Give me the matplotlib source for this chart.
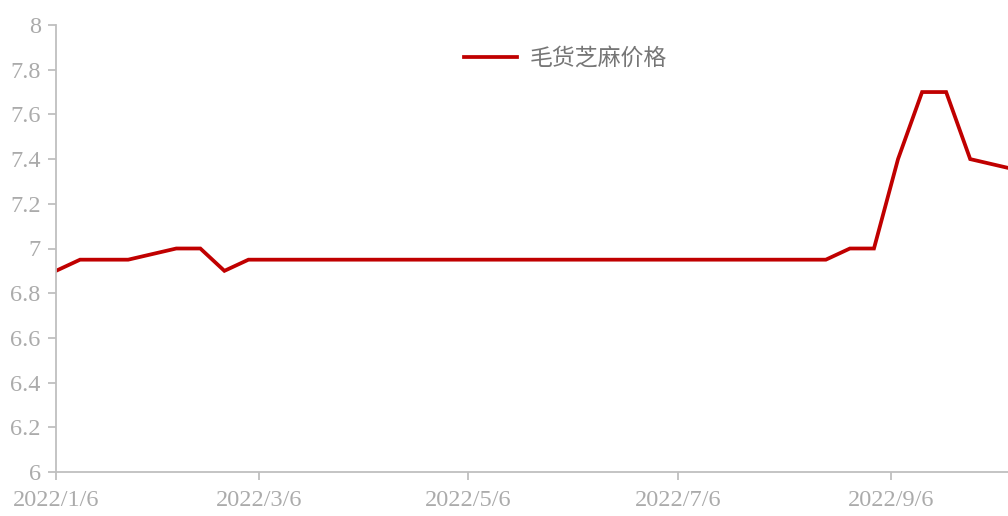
import numpy as np
import pandas as pd
import matplotlib.pyplot as plt
import matplotlib.dates as mdates

# weekly price of sesame (Thursdays), a few holiday weeks are missing
dates = (["2022-01-06", "2022-01-13", "2022-01-20", "2022-01-27"]
         + [str(d.date()) for d in pd.date_range("2022-02-10", "2022-10-01", freq="7D")]
         + ["2022-10-13"])
prices = ([6.9, 6.95, 6.95, 6.95, 7.0, 7.0, 6.9]
          + [6.95] * 25
          + [7.0, 7.0, 7.4, 7.7, 7.7, 7.4, 7.35])
dates = pd.to_datetime(dates)

yticks = [6, 6.2, 6.4, 6.6, 6.8, 7, 7.2, 7.4, 7.6, 7.8, 8]
ytick_labels = ["6", "6.2", "6.4", "6.6", "6.8", "7", "7.2", "7.4", "7.6", "7.8", "8"]
xticks = pd.to_datetime(["2022-01-06", "2022-03-06", "2022-05-06", "2022-07-06", "2022-09-06"])
xtick_labels = ["2022/1/6", "2022/3/6", "2022/5/6", "2022/7/6", "2022/9/6"]

plt.rcParams['font.family'] = ['Liberation Serif', 'Noto Sans CJK SC']

fig = plt.figure(figsize=(10.08, 5.16), dpi=100)
ax = fig.add_axes([56 / 1008, 44 / 516, 952 / 1008, 447 / 516])

ax.plot(dates, prices, color="#c00000", linewidth=2.7, label="毛货芝麻价格",
        solid_joinstyle="miter", clip_on=True)

ax.set_ylim(6, 8)
ax.set_xlim(pd.Timestamp("2022-01-06"), pd.Timestamp("2022-10-10"))
ax.set_yticks(yticks)
ax.set_yticklabels(ytick_labels)
ax.set_xticks(xticks)
ax.set_xticklabels(xtick_labels)

gray = "#bfbfbf"
for s in ["top", "right"]:
    ax.spines[s].set_visible(False)
for s in ["left", "bottom"]:
    ax.spines[s].set_color(gray)
    ax.spines[s].set_linewidth(1.3)
ax.tick_params(axis="both", colors=gray, labelcolor="#ababab", labelsize=17.5,
               length=6, width=1.3)
ax.tick_params(axis="x", pad=7)
ax.tick_params(axis="y", pad=5)

leg = ax.legend(loc="upper center", bbox_to_anchor=(0.535, 0.997), frameon=False,
                prop={"family": ["Noto Sans CJK SC"], "size": 16.5},
                handlelength=2.3, handletextpad=0.55)
for t in leg.get_texts():
    t.set_color("#767676")

fig.savefig("out.png", dpi=100)
